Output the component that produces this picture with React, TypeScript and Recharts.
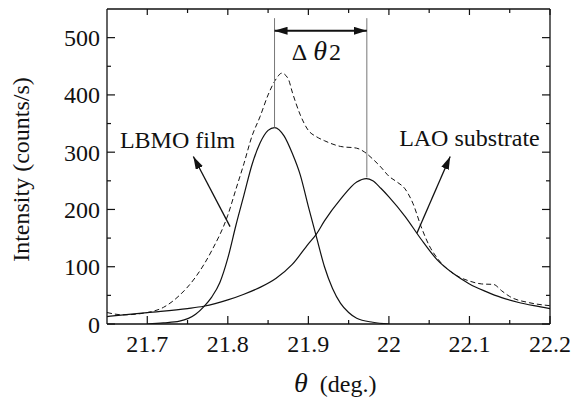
import React from 'react';
import { LineChart, Line, XAxis, YAxis, ReferenceLine, ReferenceDot } from 'recharts';

const INK = '#111';
const CSS = `.rc-serif, .rc-serif text, .rc-serif tspan { font-family: 'Liberation Serif', 'Tinos', 'Times New Roman' !important; }`;

// axis ticks
const xMajorTicks = [21.7, 21.8, 21.9, 22, 22.1, 22.2];
const xMinorTicks = [21.75, 21.85, 21.95, 22.05, 22.15];
const yMajorTicks = [0, 100, 200, 300, 400, 500];
const yMinorTicks = [50, 150, 250, 350, 450];

// measured scan (dashed)
const measuredTheta = [21.65, 21.67, 21.7, 21.72, 21.74, 21.76, 21.78, 21.8, 21.81, 21.82, 21.83, 21.84, 21.85, 21.86, 21.867, 21.875, 21.88, 21.89, 21.9, 21.91, 21.92, 21.94, 21.96, 21.97, 21.98, 21.99, 22.0, 22.01, 22.02, 22.03, 22.04, 22.05, 22.06, 22.08, 22.1, 22.115, 22.13, 22.14, 22.15, 22.175, 22.2];
const measuredCounts = [20, 16, 20, 29, 50, 82, 128, 190, 235, 280, 328, 362, 400, 428, 438, 428, 405, 365, 338, 327, 320, 310, 307, 300, 288, 274, 258, 248, 236, 210, 170, 137, 115, 88, 75, 70, 69, 58, 48, 37, 32];

// LBMO film fit
const filmTheta = [21.7, 21.72, 21.74, 21.76, 21.77, 21.78, 21.79, 21.8, 21.81, 21.82, 21.83, 21.84, 21.85, 21.858, 21.87, 21.88, 21.89, 21.9, 21.91, 21.92, 21.93, 21.94, 21.95, 21.96, 21.98, 22.0];
const filmCounts = [0, 2, 5, 17, 30, 47, 72, 115, 172, 225, 278, 316, 338, 343, 328, 298, 260, 205, 152, 100, 62, 36, 20, 10, 3, 0];

// LAO substrate fit
const laoTheta = [21.65, 21.7, 21.75, 21.77, 21.8, 21.82, 21.84, 21.86, 21.88, 21.9, 21.91, 21.92, 21.94, 21.96, 21.972, 21.98, 21.99, 22.0, 22.02, 22.04, 22.06, 22.08, 22.1, 22.12, 22.14, 22.16, 22.18, 22.2];
const laoCounts = [13, 20, 27, 31, 42, 52, 64, 80, 104, 140, 157, 180, 218, 248, 254, 250, 237, 222, 188, 148, 112, 88, 70, 57, 46, 38, 32, 27];

const peakTheta = [21.858, 21.9726];
const peakCounts = [343, 256];

const toRows = (xs: number[], ys: number[]) => xs.map((t, i) => ({ theta: t, counts: ys[i] }));
const measuredData = toRows(measuredTheta, measuredCounts);
const filmData = toRows(filmTheta, filmCounts);
const laoData = toRows(laoTheta, laoCounts);

const xTicks = [...xMajorTicks, ...xMinorTicks].sort((a, b) => a - b);
const yTicks = [...yMajorTicks, ...yMinorTicks].sort((a, b) => a - b);

const MAJOR = 8;
const MINOR = 4;

const BottomTick = ({ x, y, payload }: any) => {
  const major = xMajorTicks.includes(payload.value);
  return (
    <g>
      <line x1={x} y1={y} x2={x} y2={y - (major ? MAJOR : MINOR)} stroke={INK} strokeWidth={1.2} />
      {major && (
        <text className="rc-serif" x={x} y={y + 28} textAnchor="middle" fontSize={24} fill={INK}>
          {String(payload.value)}
        </text>
      )}
    </g>
  );
};

const TopTick = ({ x, y, payload }: any) => {
  const major = xMajorTicks.includes(payload.value);
  return <line x1={x} y1={y} x2={x} y2={y + (major ? MAJOR - 2 : MINOR)} stroke={INK} strokeWidth={1.2} />;
};

const LeftTick = ({ x, y, payload }: any) => {
  const major = yMajorTicks.includes(payload.value);
  return (
    <g>
      <line x1={x} y1={y} x2={x + (major ? MAJOR : MINOR)} y2={y} stroke={INK} strokeWidth={1.2} />
      {major && (
        <text className="rc-serif" x={x - 7} y={y + 8.5} textAnchor="end" fontSize={24} fill={INK}>
          {String(payload.value)}
        </text>
      )}
    </g>
  );
};

const RightTick = ({ x, y, payload }: any) => {
  const major = yMajorTicks.includes(payload.value);
  return <line x1={x} y1={y} x2={x - (major ? MAJOR : MINOR)} y2={y} stroke={INK} strokeWidth={1.2} />;
};

const YTitle = ({ viewBox }: any) => {
  const cx = viewBox.x + 29;
  const cy = viewBox.y + viewBox.height / 2 + 3;
  return (
    <text className="rc-serif" x={cx} y={cy} transform={`rotate(-90, ${cx}, ${cy})`} textAnchor="middle" fontSize={24} fill={INK}>
      Intensity (counts/s)
    </text>
  );
};

const XTitle = ({ viewBox }: any) => (
  <text className="rc-serif" x={viewBox.x + 187} y={viewBox.y + 68} fill={INK}>
    <tspan fontStyle="italic" fontSize={28}>θ</tspan>
    <tspan dx={12} fontSize={24}>(deg.)</tspan>
  </text>
);

const arrow = (both: boolean, width: number) => (p: any) => (
  <line
    x1={p.x1}
    y1={p.y1}
    x2={p.x2}
    y2={p.y2}
    stroke={INK}
    strokeWidth={width}
    markerEnd="url(#arrowHead)"
    markerStart={both ? 'url(#arrowHead)' : undefined}
  />
);

const note = (label: string) => (p: any) => (
  <text className="rc-serif" x={p.cx} y={p.cy} fontSize={24} fill={INK}>
    {label}
  </text>
);

const deltaNote = (p: any) => (
  <text className="rc-serif" x={p.cx} y={p.cy} fill={INK}>
    <tspan fontSize={24}>Δ</tspan>
    <tspan dx={6} fontSize={28} fontStyle="italic">θ</tspan>
    <tspan dx={2} fontSize={24}>2</tspan>
  </text>
);

const App: React.FC = () => {
  return (
    <div className="rc-serif" style={{ position: 'absolute', left: 0, top: 0, width: 572, height: 398, background: '#fff' }}>
      <style>{CSS}</style>
      <svg width={0} height={0} style={{ position: 'absolute' }}>
        <defs>
          <marker
            id="arrowHead"
            viewBox="0 0 13 8"
            refX={13}
            refY={4}
            markerWidth={13}
            markerHeight={8}
            markerUnits="userSpaceOnUse"
            orient="auto-start-reverse"
          >
            <path d="M0,0 L13,4 L0,8 z" fill={INK} />
          </marker>
        </defs>
      </svg>
      <LineChart width={572} height={398} margin={{ top: 0, right: 0, bottom: 0, left: 0 }}>
        <XAxis
          dataKey="theta"
          type="number"
          domain={[21.65, 22.2]}
          allowDataOverflow
          ticks={xTicks}
          interval={0}
          tick={<BottomTick />}
          tickLine={false}
          tickSize={0}
          tickMargin={0}
          height={74}
          axisLine={{ stroke: INK, strokeWidth: 1.3 }}
          label={<XTitle />}
        />
        <XAxis
          xAxisId="top"
          orientation="top"
          dataKey="theta"
          type="number"
          domain={[21.65, 22.2]}
          allowDataOverflow
          ticks={xTicks}
          interval={0}
          tick={<TopTick />}
          tickLine={false}
          tickSize={0}
          tickMargin={0}
          height={9}
          axisLine={{ stroke: INK, strokeWidth: 1.3 }}
        />
        <YAxis
          type="number"
          domain={[0, 550]}
          allowDataOverflow
          ticks={yTicks}
          interval={0}
          tick={<LeftTick />}
          tickLine={false}
          tickSize={0}
          tickMargin={0}
          width={107}
          axisLine={{ stroke: INK, strokeWidth: 1.3 }}
          label={<YTitle />}
        />
        <YAxis
          yAxisId="right"
          orientation="right"
          type="number"
          domain={[0, 550]}
          allowDataOverflow
          ticks={yTicks}
          interval={0}
          tick={<RightTick />}
          tickLine={false}
          tickSize={0}
          tickMargin={0}
          width={22}
          axisLine={{ stroke: INK, strokeWidth: 1.3 }}
        />

        <Line data={measuredData} dataKey="counts" type="monotone" stroke={INK} strokeWidth={1} strokeDasharray="5 3" dot={false} activeDot={false} isAnimationActive={false} />
        <Line data={filmData} dataKey="counts" type="monotone" stroke={INK} strokeWidth={1.2} dot={false} activeDot={false} isAnimationActive={false} />
        <Line data={laoData} dataKey="counts" type="monotone" stroke={INK} strokeWidth={1.2} dot={false} activeDot={false} isAnimationActive={false} />

        {/* peak markers and separation */}
        <ReferenceLine segment={[{ x: peakTheta[0], y: 534 }, { x: peakTheta[0], y: peakCounts[0] }]} stroke="#777" strokeWidth={1} />
        <ReferenceLine segment={[{ x: peakTheta[1], y: 534 }, { x: peakTheta[1], y: peakCounts[1] }]} stroke="#777" strokeWidth={1} />
        <ReferenceLine segment={[{ x: peakTheta[0], y: 512 }, { x: peakTheta[1], y: 512 }]} shape={arrow(true, 2)} />

        {/* callouts */}
        <ReferenceLine segment={[{ x: 21.8028, y: 170 }, { x: 21.7572, y: 292.5 }]} shape={arrow(false, 1.3)} />
        <ReferenceLine segment={[{ x: 22.0347, y: 158.6 }, { x: 22.0761, y: 292.5 }]} shape={arrow(false, 1.3)} />
        <ReferenceDot x={21.6661} y={307.7} r={0} shape={note('LBMO film')} />
        <ReferenceDot x={22.0127} y={310} r={0} shape={note('LAO substrate')} />
        <ReferenceDot x={21.8794} y={461.5} r={0} shape={deltaNote} />
      </LineChart>
    </div>
  );
};

export default App;
